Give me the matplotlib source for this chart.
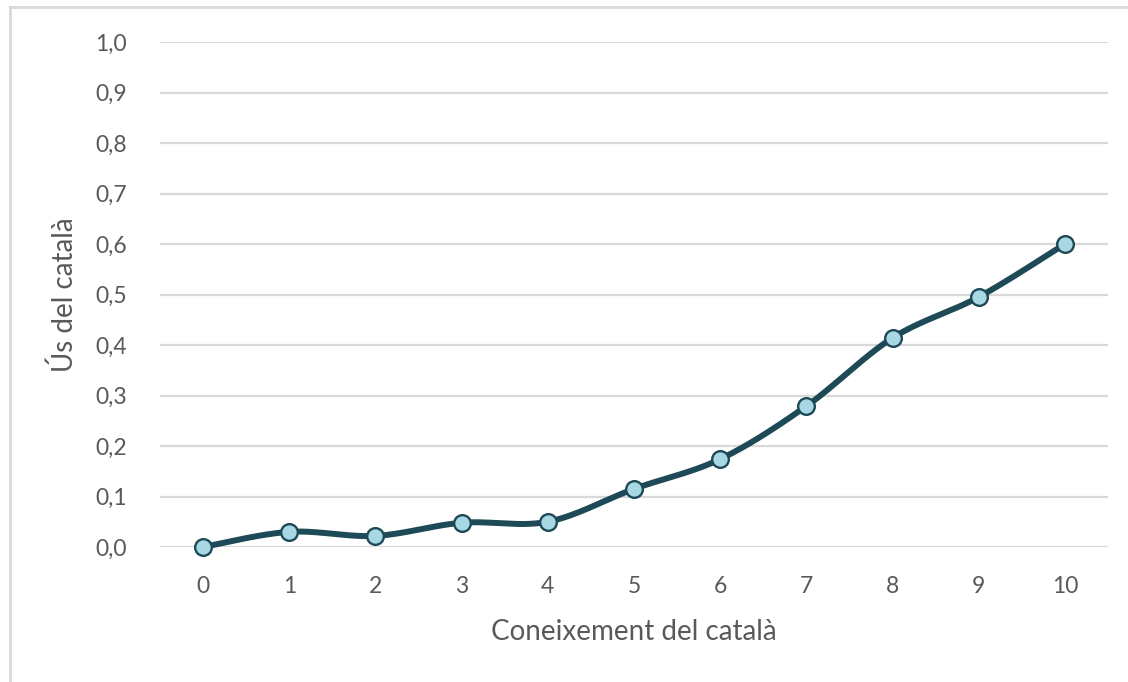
import numpy as np
import matplotlib
matplotlib.use("Agg")
import matplotlib.pyplot as plt
from matplotlib.lines import Line2D

# data
coneixement = [0, 1, 2, 3, 4, 5, 6, 7, 8, 9, 10]
us = [0.0, 0.030, 0.022, 0.048, 0.050, 0.115, 0.174, 0.279, 0.414, 0.495, 0.600]
yticks = [0.0, 0.1, 0.2, 0.3, 0.4, 0.5, 0.6, 0.7, 0.8, 0.9, 1.0]

LINE = "#1d4a56"
FILL = "#a8d8e4"
TXT = "#595959"
GRID = "#d9d9d9"

plt.rcParams['font.family'] = ['Lato', 'DejaVu Sans']


def smooth(x, y, n=30):
  # Catmull-Rom style bezier like the spreadsheet "smoothed line"
  x = np.asarray(x, float)
  y = np.asarray(y, float)
  px = np.concatenate([[x[0]], x, [x[-1]]])
  py = np.concatenate([[y[0]], y, [y[-1]]])
  xs, ys = [], []
  t = np.linspace(0, 1, n)
  for i in range(1, len(px) - 2):
    p0 = np.array([px[i], py[i]])
    p3 = np.array([px[i + 1], py[i + 1]])
    p1 = p0 + (np.array([px[i + 1], py[i + 1]]) - np.array([px[i - 1], py[i - 1]])) / 6
    p2 = p3 - (np.array([px[i + 2], py[i + 2]]) - np.array([px[i], py[i]])) / 6
    b = ((1 - t) ** 3)[:, None] * p0 + (3 * (1 - t) ** 2 * t)[:, None] * p1 \
        + (3 * (1 - t) * t ** 2)[:, None] * p2 + (t ** 3)[:, None] * p3
    xs.extend(b[:, 0])
    ys.extend(b[:, 1])
  return xs, ys


fig = plt.figure(figsize=(11.28, 6.82), dpi=100)
ax = fig.add_axes([160 / 1128, 1 - 547 / 682, 948 / 1128, 505 / 682])

sx, sy = smooth(coneixement, us)
ax.plot(sx, sy, color=LINE, lw=4.3, solid_capstyle='round', clip_on=False, zorder=3)
ax.plot(coneixement, us, 'o', ms=12, mfc=FILL, mec=LINE, mew=1.7, clip_on=False, zorder=4)

ax.set_xlim(-0.5, 10.5)
ax.set_ylim(0, 1.0)
ax.set_xticks(coneixement)
ax.set_yticks(yticks)
ax.set_yticklabels([f"{v:.1f}".replace('.', ',') for v in yticks])
ax.tick_params(length=0, labelsize=16.5, labelcolor=TXT)
ax.tick_params(axis='x', pad=21)
ax.tick_params(axis='y', pad=24)
ax.grid(axis='y', color=GRID, lw=1.6)
ax.set_axisbelow(True)
for s in ax.spines.values():
  s.set_visible(False)

ax.set_xlabel("Coneixement del català", fontsize=20, color=TXT, labelpad=16)
ax.set_ylabel("Ús del català", fontsize=20, color=TXT, labelpad=12)

# chart frame (only top and left visible in the crop)
fig.add_artist(Line2D([10 / 1128, 1], [1 - 7 / 682, 1 - 7 / 682], color=GRID, lw=2))
fig.add_artist(Line2D([10 / 1128, 10 / 1128], [0, 1 - 7 / 682], color=GRID, lw=2))

fig.savefig("out.png", dpi=100)
